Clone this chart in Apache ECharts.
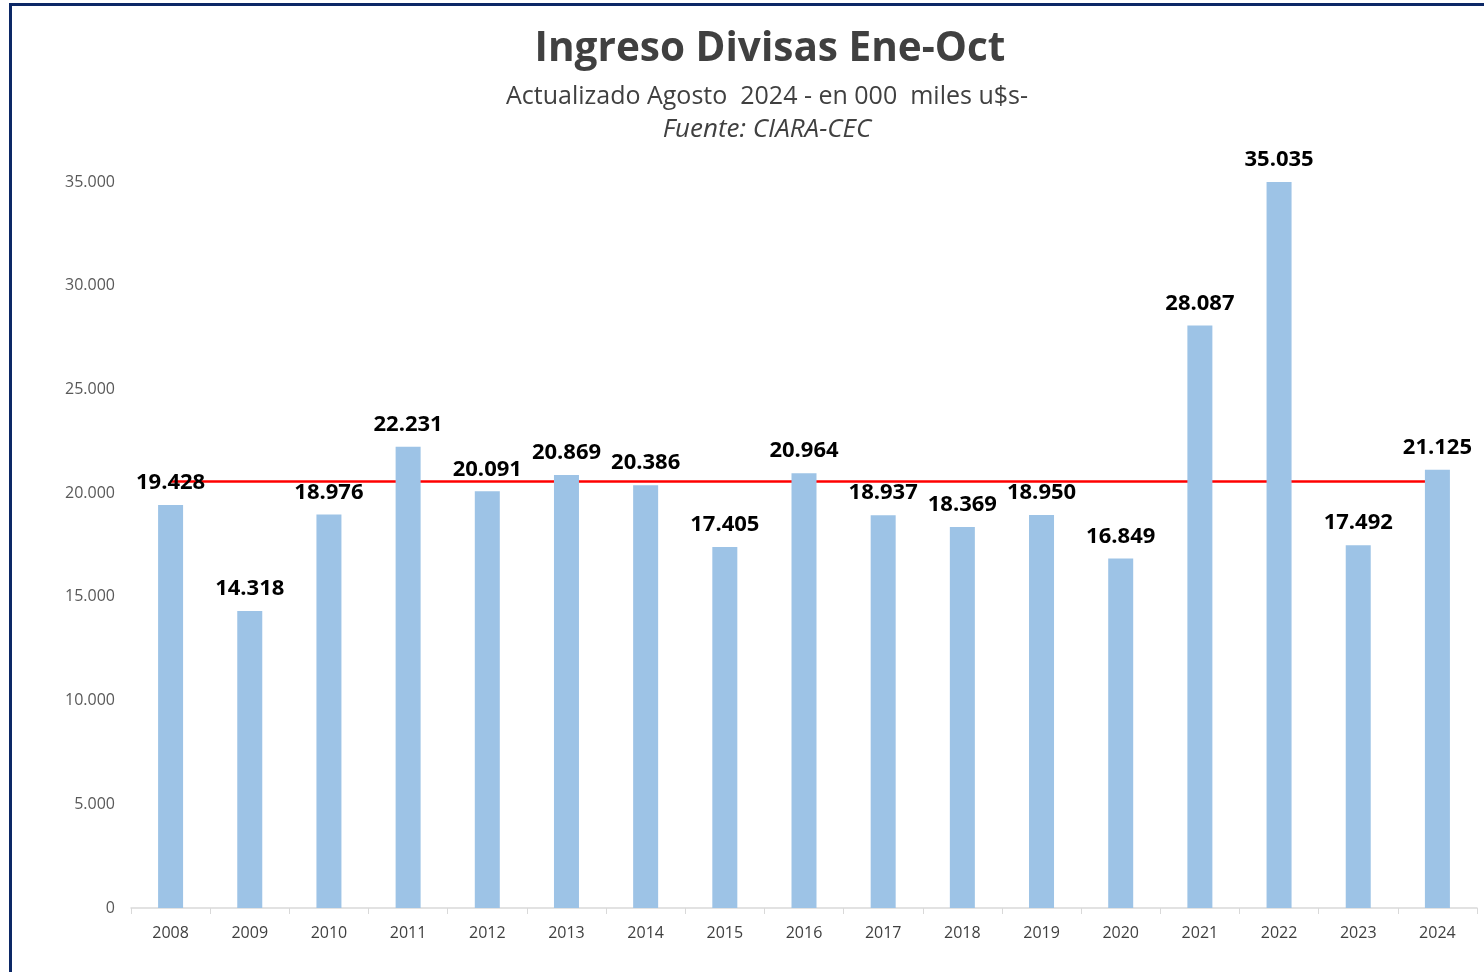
<!DOCTYPE html>
<html>
<head>
<meta charset="utf-8">
<script src="https://cdn.jsdelivr.net/npm/echarts@6/dist/echarts.min.js"></script>
<style>
  html, body { margin: 0; padding: 0; background: #fff; overflow: hidden; }
  #frame {
    position: absolute; left: 9px; top: 3px; width: 1500px; height: 1000px;
    border-left: 3px solid #0c2866; border-top: 3px solid #0c2866;
  }
  #chart { position: absolute; left: 0; top: 0; width: 1484px; height: 972px; }
</style>
</head>
<body>
<div id="frame"></div>
<div id="chart"></div>
<script>
// años y valores (miles de u$s)
const years = ['2008', '2009', '2010', '2011', '2012', '2013', '2014', '2015', '2016',
  '2017', '2018', '2019', '2020', '2021', '2022', '2023', '2024'];
const ingresos = [19428, 14318, 18976, 22231, 20091, 20869, 20386, 17405, 20964,
  18937, 18369, 18950, 16849, 28087, 35035, 17492, 21125];
// promedio (línea roja)
const promedio = 20560;

const fmt = v => String(v).replace(/\B(?=(\d{3})+(?!\d))/g, '.');
const font = '"Open Sans", "Noto Sans", sans-serif';

const chart = echarts.init(document.getElementById('chart'));
chart.setOption({
  animation: false,
  title: [
    {
      text: 'Ingreso Divisas Ene-Oct',
      left: 765, textAlign: 'center', top: 24,
      textStyle: { fontFamily: font, fontSize: 40.5, fontWeight: 'bold', color: '#404040' }
    },
    {
      text: 'Actualizado Agosto  2024 - en 000  miles u$s-',
      left: 762, textAlign: 'center', top: 79,
      textStyle: { fontFamily: font, fontSize: 25, fontWeight: 'normal', color: '#404040' }
    },
    {
      text: 'Fuente: CIARA-CEC',
      left: 762, textAlign: 'center', top: 112,
      textStyle: { fontFamily: font, fontSize: 26, fontWeight: 'normal', fontStyle: 'italic', color: '#404040' }
    }
  ],
  grid: { left: 131, right: 7, top: 182, bottom: 64, containLabel: false },
  xAxis: {
    type: 'category',
    data: years,
    axisLine: { lineStyle: { color: '#d9d9d9', width: 1.5 } },
    axisTick: { show: true, length: 6, lineStyle: { color: '#d9d9d9' } },
    axisLabel: { fontFamily: font, fontSize: 16, color: '#404040', margin: 17 }
  },
  yAxis: {
    type: 'value',
    min: 0, max: 35000, interval: 5000,
    splitLine: { show: false },
    axisLine: { show: false },
    axisTick: { show: false },
    axisLabel: { fontFamily: font, fontSize: 16, color: '#595959', margin: 16, formatter: fmt }
  },
  series: [{
    type: 'bar',
    data: ingresos,
    barWidth: 25,
    itemStyle: { color: '#9dc3e6' },
    label: {
      show: true, position: 'top', distance: 11,
      fontFamily: font, fontSize: 22, fontWeight: 'bold', color: '#000',
      formatter: p => fmt(p.value)
    },
    markLine: {
      silent: true,
      symbol: 'none',
      z: 1,
      label: { show: false },
      lineStyle: { color: '#ff0000', width: 2.5, type: 'solid' },
      data: [[{ coord: [years[0], promedio] }, { coord: [years[years.length - 1], promedio] }]]
    }
  }]
});
</script>
</body>
</html>
